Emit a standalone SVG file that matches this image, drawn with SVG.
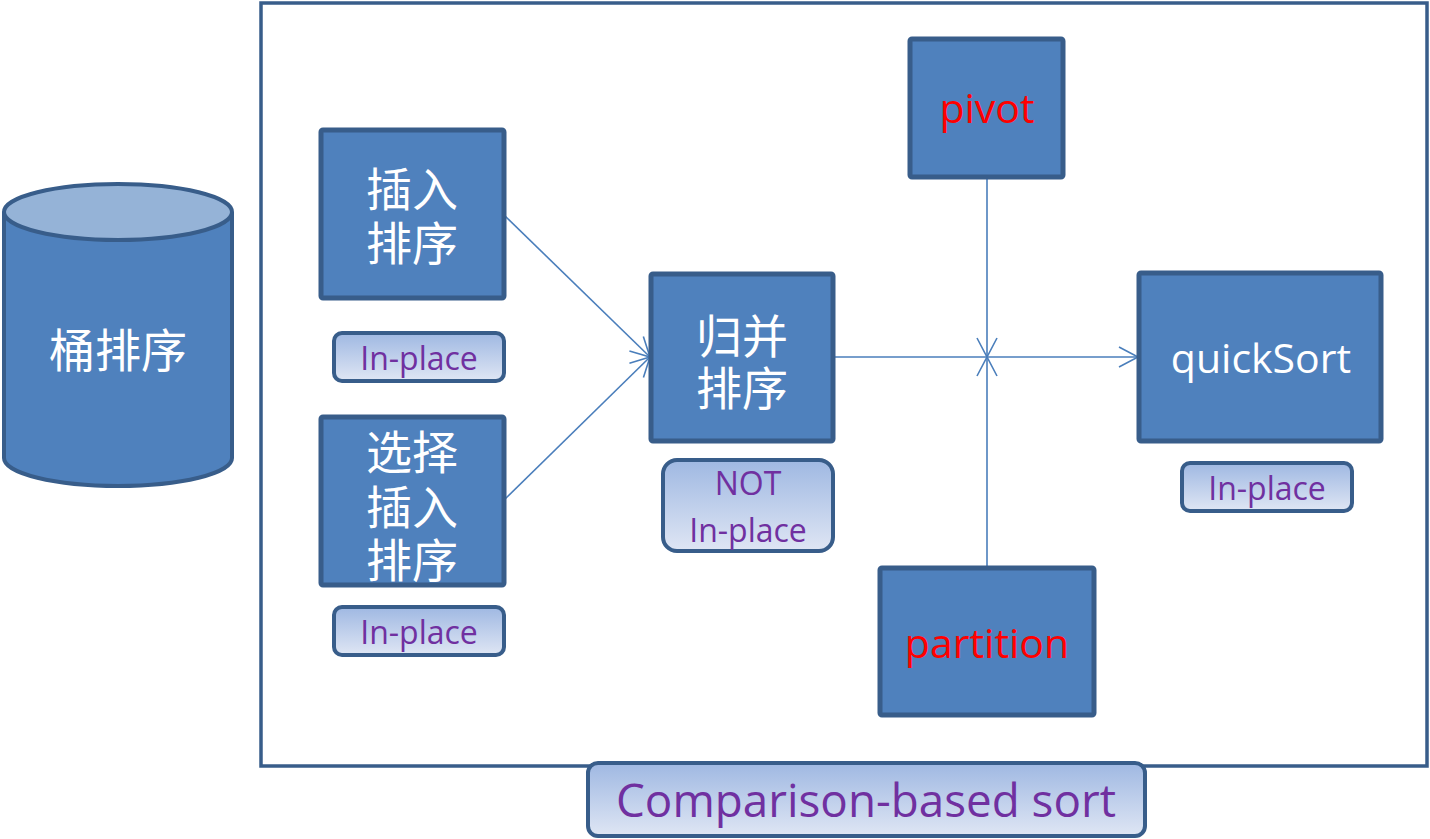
<svg xmlns="http://www.w3.org/2000/svg" width="1430" height="839" viewBox="0 0 1430 839">
  <style>
    .box { fill: #4f81bd; stroke: #385d8a; stroke-width: 5; }
    .pill { fill: url(#pillGrad); stroke: #385d8a; stroke-width: 4; }
    .cjk { font-family: "Noto Sans CJK SC", sans-serif; font-size: 46px; fill: #ffffff; text-anchor: middle; }
    .lat { font-family: "Open Sans", "Liberation Sans", sans-serif; text-anchor: middle; }
    .tag { font-size: 32px; fill: #7030a0; }
    .big { font-size: 41px; }
    .red { fill: #ff0000; }
    .white { fill: #ffffff; }
    .conn { stroke: #4a7ebb; stroke-width: 1.6; fill: none; }
  </style>
  <defs>
    <linearGradient id="pillGrad" x1="0" y1="0" x2="0" y2="1">
      <stop offset="0" stop-color="#9fb8e2"/>
      <stop offset="1" stop-color="#dfe6f4"/>
    </linearGradient>
    <marker id="arrow" markerUnits="userSpaceOnUse" markerWidth="24" markerHeight="24" viewBox="-20 -12 24 24" refX="0" refY="0" orient="auto">
      <path d="M-19,-10 L0,0 L-19,10" fill="none" stroke="#4a7ebb" stroke-width="1.6"/>
    </marker>
  </defs>

  <rect width="1430" height="839" fill="#ffffff"/>

  <!-- outer frame for comparison-based sorts -->
  <rect id="frame" x="261" y="3" width="1166" height="763" fill="none" stroke="#385d8a" stroke-width="3.5"/>

  <!-- bucket sort cylinder -->
  <g id="bucket">
    <path d="M4,212 L4,458 A114,28 0 0 0 232,458 L232,212" fill="#4f81bd" stroke="#385d8a" stroke-width="4"/>
    <ellipse cx="118" cy="212" rx="114" ry="28" fill="#95b3d7" stroke="#385d8a" stroke-width="4"/>
    <text class="cjk" x="118" y="367">桶排序</text>
  </g>

  <g id="connectors">
    <line class="conn" x1="504" y1="215" x2="650" y2="357" marker-end="url(#arrow)"/>
    <line class="conn" x1="504" y1="500" x2="650" y2="357" marker-end="url(#arrow)"/>
    <line class="conn" x1="833" y1="357" x2="1138" y2="357" marker-end="url(#arrow)"/>
    <line class="conn" x1="987" y1="177" x2="987" y2="357" marker-end="url(#arrow)"/>
    <line class="conn" x1="987" y1="568" x2="987" y2="357" marker-end="url(#arrow)"/>
  </g>

  <g id="insertion">
    <rect class="box" x="321" y="130" width="183" height="168" rx="2"/>
    <text class="cjk" x="412" y="206">插入<tspan x="412" dy="54">排序</tspan></text>
  </g>
  <g id="insertion-tag">
    <rect class="pill" x="334" y="333" width="170" height="48" rx="8"/>
    <text class="lat tag" x="419" y="370">In-place</text>
  </g>

  <g id="selection">
    <rect class="box" x="321" y="417" width="183" height="168" rx="2"/>
    <text class="cjk" x="412" y="469">选择<tspan x="412" dy="55">插入</tspan><tspan x="412" dy="53">排序</tspan></text>
  </g>
  <g id="selection-tag">
    <rect class="pill" x="334" y="607" width="170" height="48" rx="8"/>
    <text class="lat tag" x="419" y="644">In-place</text>
  </g>

  <g id="merge">
    <rect class="box" x="651" y="274" width="182" height="167" rx="2"/>
    <text class="cjk" x="742" y="353">归并<tspan x="742" dy="52">排序</tspan></text>
  </g>
  <g id="merge-tag">
    <rect class="pill" x="663" y="460" width="170" height="91" rx="14"/>
    <text class="lat tag" x="748" y="495">NOT<tspan x="748" dy="47">In-place</tspan></text>
  </g>

  <g id="pivot">
    <rect class="box" x="910" y="39" width="153" height="138" rx="2"/>
    <text class="lat big red" x="987" y="123">pivot</text>
  </g>

  <g id="partition">
    <rect class="box" x="880" y="568" width="214" height="147" rx="2"/>
    <text class="lat big red" x="987" y="658">partition</text>
  </g>

  <g id="quicksort">
    <rect class="box" x="1139" y="273" width="242" height="168" rx="2"/>
    <text class="lat big white" x="1261" y="373">quickSort</text>
  </g>
  <g id="quicksort-tag">
    <rect class="pill" x="1182" y="463" width="170" height="48" rx="8"/>
    <text class="lat tag" x="1267" y="500">In-place</text>
  </g>

  <g id="caption">
    <rect class="pill" x="588" y="763" width="557" height="73" rx="10"/>
    <text class="lat" x="866" y="817" font-size="46" fill="#7030a0" textLength="500" lengthAdjust="spacingAndGlyphs">Comparison-based sort</text>
  </g>
</svg>
